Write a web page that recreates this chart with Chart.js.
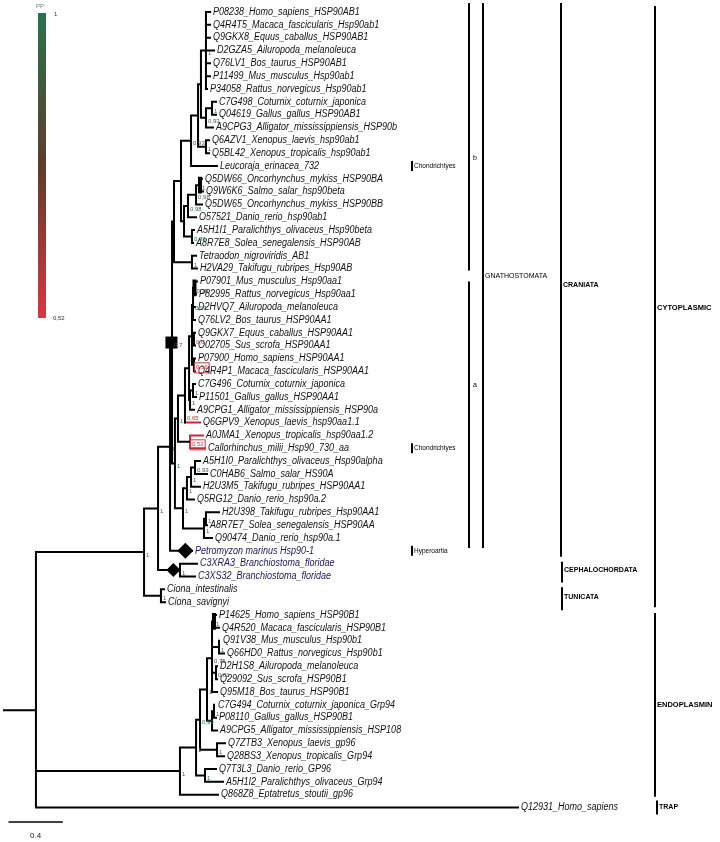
<!DOCTYPE html>
<html>
<head>
<meta charset="utf-8">
<script src="https://cdn.jsdelivr.net/npm/chart.js@4.4.0/dist/chart.umd.min.js"></script>
<style>
  html, body { margin: 0; padding: 0; background: #fff; }
</style>
</head>
<body>
<canvas id="treeChart" width="720" height="842"></canvas>
<script>
// ---- leaves, top to bottom (y = leaf order) ----
const leafNames = [
  "P08238_Homo_sapiens_HSP90AB1", "Q4R4T5_Macaca_fascicularis_Hsp90ab1", "Q9GKX8_Equus_caballus_HSP90AB1",
  "D2GZA5_Ailuropoda_melanoleuca", "Q76LV1_Bos_taurus_HSP90AB1", "P11499_Mus_musculus_Hsp90ab1",
  "P34058_Rattus_norvegicus_Hsp90ab1", "C7G498_Coturnix_coturnix_japonica", "Q04619_Gallus_gallus_HSP90AB1",
  "A9CPG3_Alligator_mississippiensis_HSP90b", "Q6AZV1_Xenopus_laevis_hsp90ab1", "Q5BL42_Xenopus_tropicalis_hsp90ab1",
  "Leucoraja_erinacea_732", "Q5DW66_Oncorhynchus_mykiss_HSP90BA", "Q9W6K6_Salmo_salar_hsp90beta",
  "Q5DW65_Oncorhynchus_mykiss_HSP90BB", "O57521_Danio_rerio_hsp90ab1", "A5H1I1_Paralichthys_olivaceus_Hsp90beta",
  "A8R7E8_Solea_senegalensis_HSP90AB", "Tetraodon_nigroviridis_AB1", "H2VA29_Takifugu_rubripes_Hsp90AB",
  "P07901_Mus_musculus_Hsp90aa1", "P82995_Rattus_norvegicus_Hsp90aa1", "D2HVQ7_Ailuropoda_melanoleuca",
  "Q76LV2_Bos_taurus_HSP90AA1", "Q9GKX7_Equus_caballus_HSP90AA1", "O02705_Sus_scrofa_HSP90AA1",
  "P07900_Homo_sapiens_HSP90AA1", "Q4R4P1_Macaca_fascicularis_HSP90AA1", "C7G496_Coturnix_coturnix_japonica",
  "P11501_Gallus_gallus_HSP90AA1", "A9CPG1_Alligator_mississippiensis_HSP90a", "Q6GPV9_Xenopus_laevis_hsp90aa1.1",
  "A0JMA1_Xenopus_tropicalis_hsp90aa1.2", "Callorhinchus_milii_Hsp90_730_aa", "A5H1I0_Paralichthys_olivaceus_Hsp90alpha",
  "C0HAB6_Salmo_salar_HS90A", "H2U3M5_Takifugu_rubripes_HSP90AA1", "Q5RG12_Danio_rerio_hsp90a.2",
  "H2U398_Takifugu_rubripes_Hsp90AA1", "A8R7E7_Solea_senegalensis_HSP90AA", "Q90474_Danio_rerio_hsp90a.1",
  "Petromyzon marinus Hsp90-1", "C3XRA3_Branchiostoma_floridae", "C3XS32_Branchiostoma_floridae",
  "Ciona_intestinalis", "Ciona_savignyi", "P14625_Homo_sapiens_HSP90B1",
  "Q4R520_Macaca_fascicularis_HSP90B1", "Q91V38_Mus_musculus_Hsp90b1", "Q66HD0_Rattus_norvegicus_Hsp90b1",
  "D2H1S8_Ailuropoda_melanoleuca", "Q29092_Sus_scrofa_HSP90B1", "Q95M18_Bos_taurus_HSP90B1",
  "C7G494_Coturnix_coturnix_japonica_Grp94", "P08110_Gallus_gallus_HSP90B1", "A9CPG5_Alligator_mississippiensis_HSP108",
  "Q7ZTB3_Xenopus_laevis_gp96", "Q28BS3_Xenopus_tropicalis_Grp94", "Q7T3L3_Danio_rerio_GP96",
  "A5H1I2_Paralichthys_olivaceus_Grp94", "Q868Z8_Eptatretus_stoutii_gp96", "Q12931_Homo_sapiens"
];
// distance from root to each tip (substitutions/site)
const leafDepth = [
  1.561, 1.561, 1.561, 1.591, 1.561, 1.561, 1.538, 1.606, 1.606, 1.583, 1.553, 1.553,
  1.614, 1.500, 1.508, 1.500, 1.455, 1.439, 1.432, 1.455, 1.462,
  1.462, 1.455, 1.447, 1.447, 1.447, 1.447, 1.447, 1.447, 1.447, 1.455, 1.439, 1.485,
  1.508, 1.523, 1.485, 1.538, 1.485, 1.439, 1.629, 1.538, 1.576,
  1.424, 1.462, 1.447, 1.212, 1.220,
  1.606, 1.629, 1.636, 1.667, 1.614, 1.614, 1.614, 1.598, 1.606, 1.614, 1.674, 1.667,
  1.606, 1.659, 1.621, 3.894
];
const navyLeaves = [42, 43, 44];

// ---- internal nodes (children: numbers are leaves) ----
const nodeNames = [
  "root", "cyto", "chordata", "craniata", "gnath", "b", "bb", "vert_ab1", "tet_ab", "amn_ab",
  "mam_ab", "saur_ab", "bird_ab", "xen_ab", "tel_ab", "tel_1", "sal_2", "sal_1", "flat_ab", "fugu_ab",
  "a", "aa", "tet_aa", "amn_aa", "mam_aa", "ma1", "ra", "ma2", "ma3", "saur_aa",
  "bird_aa", "x2", "tt", "ta3", "ta2", "ta1", "tb2", "tb1", "branchio", "tunicata",
  "endo", "e_vert", "e_tet", "e_amn", "e_mam", "e_mam1", "e_mam2", "e_mam3", "e_saur", "e_bird",
  "e_xen", "e_fish"
];
const nodeDepth = [
  0.242, 1.061, 1.167, 1.258, 1.273, 1.288, 1.341, 1.417, 1.470, 1.492,
  1.530, 1.530, 1.576, 1.530, 1.364, 1.394, 1.455, 1.485, 1.424, 1.424,
  1.295, 1.318, 1.371, 1.402, 1.424, 1.432, 1.443, 1.439, 1.439, 1.409,
  1.432, 1.409, 1.356, 1.386, 1.417, 1.447, 1.515, 1.530, 1.333, 1.189,
  1.333, 1.455, 1.485, 1.538, 1.576, 1.591, 1.629, 1.606, 1.576, 1.591,
  1.614, 1.523
];
const nodeKids = [
  ["cyto", "endo", 62], ["chordata", "tunicata"], ["craniata", "branchio"], ["gnath", 42], ["b", "a"],
  ["bb", "fugu_ab"], ["vert_ab1", "tel_ab"], ["tet_ab", 12], ["amn_ab", "xen_ab"], ["mam_ab", "saur_ab"],
  [0, 1, 2, 3, 4, 5, 6], ["bird_ab", 9], [7, 8], [10, 11], ["tel_1", "flat_ab"],
  ["sal_2", 16], ["sal_1", 15], [13, 14], [17, 18], [19, 20],
  ["aa", "tt"], ["tet_aa", "x2"], ["amn_aa", 32], ["mam_aa", "saur_aa"], ["ma1", "ma2", "ma3"],
  ["ra", 23, 24], [21, 22], [25, 26], [27, 28], ["bird_aa", 31],
  [29, 30], [33, 34], ["ta3", "tb2"], ["ta2", 38], ["ta1", 37],
  [35, 36], ["tb1", 41], [39, 40], [43, 44], [45, 46],
  ["e_vert", 61], ["e_tet", "e_fish"], ["e_amn", "e_xen"], ["e_mam", "e_saur"], ["e_mam1", "e_mam2", "e_mam3", 53],
  [47, 48], [49, 50], [51, 52], ["e_bird", 56], [54, 55],
  [57, 58], [59, 60]
];

// posterior probabilities shown on the tree
const supportRefs = [
  "cyto", "chordata", "craniata", "gnath", "a", "aa", "tt", "ta1", "ta2", "ta3", "tb1", "tb2",
  "x2", 32, "bird_aa", "saur_aa", "ra", "ma1", "ma2", "ma3", "branchio", "tunicata",
  "mam_ab", "bird_ab", "saur_ab", "xen_ab", "vert_ab1", "sal_1", "sal_2", "tel_1", "flat_ab", "fugu_ab",
  "endo", "e_vert", "e_fish", "e_tet", "e_xen", "e_amn", "e_bird", "e_mam1", "e_mam2", "e_mam", "e_mam3"
];
const supportText = [
  "1", "1", "1", "0,7", "1", "1", "1", "0,93", "1", "1", "1", "1",
  "0,52", "0,65", "1", "1", "0,78", "0,97", "0,6", "0,56", "1", "1",
  "1", "1", "0,93", "1", "0,93", "1", "0,98", "0,98", "0,99", "1",
  "1", "1", "1", "0,99", "1", "1", "1", "1", "1", "0,75", "0,81"
];
const lowSupportNodes = ["x2"];
const lowSupportLeaves = [32];
const thickNodes = ["ra", "sal_1", "e_mam1"];

// markers sit on the stem of these (square = gnathostomes, diamonds = lamprey / amphioxus)
const markerRefs = ["gnath", 42, "branchio"];
const markerShapes = ["rect", "rectRot", "rectRot"];

// clade annotations on the right
const cladeNames = ["b", "a", "GNATHOSTOMATA", "CRANIATA", "CYTOPLASMIC", "CEPHALOCHORDATA", "TUNICATA",
  "ENDOPLASMIN", "TRAP", "Chondrichtyes", "Chondrichtyes", "Hyperoartia"];
const cladeFrom = [0, 21, 0, 0, 0, 43, 45, 47, 62, 12, 34, 42];
const cladeTo = [20, 41, 41, 42, 46, 44, 46, 61, 62, 12, 34, 42];

const scaleBarLength = 0.4;
const ppRange = [0.52, 1];

// ---- layout / style (pixels) ----
const cladeBarX = [469, 469, 483, 561, 655, 562, 562, 655, 657, 412, 412, 412];
const cladePadTop = [9, 0, 9, 9, 6, 2, 2, 2, 7, 5, 5, 5];
const cladePadBottom = [2, 10, 10, 6, 5, 6, 8, 2, 7, 5, 5, 5];
const cladeLabelAt = [11.4, 29.1, 20.6, 21.3, 23.1, 43.5, 45.6, 54, 62, 12, 34, 42];
const cladeFont = ["7px", "7px", "7px", "bold 7px", "bold 7.5px", "bold 7px", "bold 7px",
  "bold 7.5px", "bold 7px", "6.5px", "6.5px", "6.5px"];
const markerAlong = 0.7; // fraction along the stem

// ---- tree layout from the arrays ----
const nodeIndex = {};
nodeNames.forEach(function (n, i) { nodeIndex[n] = i; });
const nodeY = {};
const parentOf = {};
nodeKids.forEach(function (kids, i) {
  kids.forEach(function (k) { parentOf[k] = nodeNames[i]; });
});
function yOf(ref) {
  if (typeof ref === "number") return ref;
  if (nodeY[ref] === undefined) {
    const kids = nodeKids[nodeIndex[ref]];
    nodeY[ref] = kids.reduce(function (s, k) { return s + yOf(k); }, 0) / kids.length;
  }
  return nodeY[ref];
}
function xOf(ref) {
  return typeof ref === "number" ? leafDepth[ref] : nodeDepth[nodeIndex[ref]];
}

const blackLines = [], redLines = [], thickLines = [];
function seg(arr, x1, y1, x2, y2) {
  arr.push({ x: x1, y: y1 }, { x: x2, y: y2 }, { x: null, y: null });
}
seg(blackLines, 0, yOf("root"), xOf("root"), yOf("root"));
nodeNames.forEach(function (n, i) {
  const kids = nodeKids[i];
  const ys = kids.map(yOf);
  const x = nodeDepth[i];
  const low = lowSupportNodes.includes(n);
  const vArr = low ? redLines : (thickNodes.includes(n) ? thickLines : blackLines);
  seg(vArr, x, Math.min.apply(null, ys), x, Math.max.apply(null, ys));
  kids.forEach(function (k) {
    const red = low || (typeof k === "number" && lowSupportLeaves.includes(k));
    seg(red ? redLines : blackLines, x, yOf(k), xOf(k), yOf(k));
  });
});

const markerPts = markerRefs.map(function (r) {
  const x0 = xOf(parentOf[r]);
  return { x: x0 + (xOf(r) - x0) * markerAlong, y: yOf(r) };
});

const scaleBarY = 63.13;

function ppColor(v) {
  const t = Math.max(0, Math.min(1, (v - ppRange[0]) / (ppRange[1] - ppRange[0])));
  const red = [215, 55, 65], mid = [95, 60, 45], green = [40, 115, 75];
  let a, b, f;
  if (t < 0.5) { a = red; b = mid; f = t / 0.5; } else { a = mid; b = green; f = (t - 0.5) / 0.5; }
  return "rgb(" + a.map(function (c, i) { return Math.round(c + (b[i] - c) * f); }).join(",") + ")";
}

const FONT = '"Liberation Sans", Arial, sans-serif';

const treeText = {
  id: "treeText",
  afterDatasetsDraw: function (chart) {
    const ctx = chart.ctx;
    const xs = chart.scales.x, ys = chart.scales.y;
    ctx.save();

    // tip labels
    ctx.textBaseline = "middle";
    ctx.font = "italic 10px " + FONT;
    leafNames.forEach(function (name, i) {
      const px = xs.getPixelForValue(leafDepth[i]) + 3;
      const py = ys.getPixelForValue(i);
      ctx.fillStyle = navyLeaves.includes(i) ? "#20205a" : "#111";
      ctx.save();
      ctx.translate(px, py);
      ctx.scale(0.9, 1);
      ctx.fillText(name, 0, 0);
      ctx.restore();
    });

    // support values
    ctx.font = "6px " + FONT;
    supportRefs.forEach(function (r, i) {
      const v = parseFloat(supportText[i].replace(",", "."));
      let px, py;
      if (typeof r === "number") {
        px = xs.getPixelForValue(xOf(parentOf[r])) + 2;
        py = ys.getPixelForValue(yOf(r)) - 4;
      } else {
        px = xs.getPixelForValue(xOf(r)) + 2;
        py = ys.getPixelForValue(yOf(r)) + 3;
      }
      ctx.fillStyle = ppColor(v);
      ctx.fillText(supportText[i], px, py);
      if (v < 0.6) {
        const w = ctx.measureText(supportText[i]).width;
        ctx.strokeStyle = ppColor(v);
        ctx.lineWidth = 1;
        ctx.strokeRect(px - 1.5, py - 5, w + 3, 10);
      }
    });

    // clade bars
    cladeNames.forEach(function (name, i) {
      const x = cladeBarX[i];
      const y1 = ys.getPixelForValue(cladeFrom[i]) - cladePadTop[i];
      const y2 = ys.getPixelForValue(cladeTo[i]) + cladePadBottom[i];
      ctx.strokeStyle = "#000";
      ctx.lineWidth = 2;
      ctx.beginPath();
      ctx.moveTo(x, y1);
      ctx.lineTo(x, y2);
      ctx.stroke();
      ctx.fillStyle = "#000";
      ctx.font = cladeFont[i] + " " + FONT;
      ctx.fillText(name, x + (i < 2 ? 4 : 2), ys.getPixelForValue(cladeLabelAt[i]));
    });

    // scale label
    ctx.font = "8px " + FONT;
    ctx.fillStyle = "#222";
    ctx.textAlign = "center";
    ctx.fillText(String(scaleBarLength), (xs.getPixelForValue(0.04) + xs.getPixelForValue(0.04 + scaleBarLength)) / 2, 836);

    // PP colour key
    const grad = ctx.createLinearGradient(0, 13, 0, 318);
    grad.addColorStop(0, ppColor(ppRange[1]));
    grad.addColorStop(0.5, ppColor((ppRange[0] + ppRange[1]) / 2));
    grad.addColorStop(1, ppColor(ppRange[0]));
    ctx.fillStyle = grad;
    ctx.fillRect(38, 13, 8, 305);
    ctx.textAlign = "left";
    ctx.font = "6px " + FONT;
    ctx.fillStyle = "#777";
    ctx.fillText("PP", 36, 6);
    ctx.fillStyle = "#333";
    ctx.fillText(String(ppRange[1]), 54, 14);
    ctx.fillText(String(ppRange[0]).replace(".", ","), 53, 318);
    ctx.restore();
  }
};

const lineDefaults = {
  showLine: true, pointRadius: 0, spanGaps: false, tension: 0,
  borderCapStyle: "square", fill: false
};

new Chart(document.getElementById("treeChart"), {
  type: "scatter",
  data: {
    datasets: [
      Object.assign({ data: blackLines, borderColor: "#000", borderWidth: 2 }, lineDefaults),
      Object.assign({ data: thickLines, borderColor: "#000", borderWidth: 4 }, lineDefaults),
      Object.assign({ data: redLines, borderColor: "#c8283a", borderWidth: 2 }, lineDefaults),
      Object.assign({
        data: [{ x: 0.04, y: scaleBarY }, { x: 0.04 + scaleBarLength, y: scaleBarY }],
        borderColor: "#000", borderWidth: 1.5
      }, lineDefaults),
      {
        data: markerPts, showLine: false,
        pointStyle: markerShapes, pointRadius: [8.5, 8, 7],
        backgroundColor: "#000", borderColor: "#000", borderWidth: 0
      }
    ]
  },
  options: {
    responsive: false,
    animation: false,
    layout: { padding: 0, autoPadding: false },
    plugins: { legend: { display: false }, tooltip: { enabled: false } },
    scales: {
      x: { type: "linear", display: false, min: -4 / 132, max: 716 / 132 },
      y: { type: "linear", display: false, reverse: true, min: -12 / 12.83, max: 830 / 12.83 }
    }
  },
  plugins: [treeText]
});
</script>
</body>
</html>
